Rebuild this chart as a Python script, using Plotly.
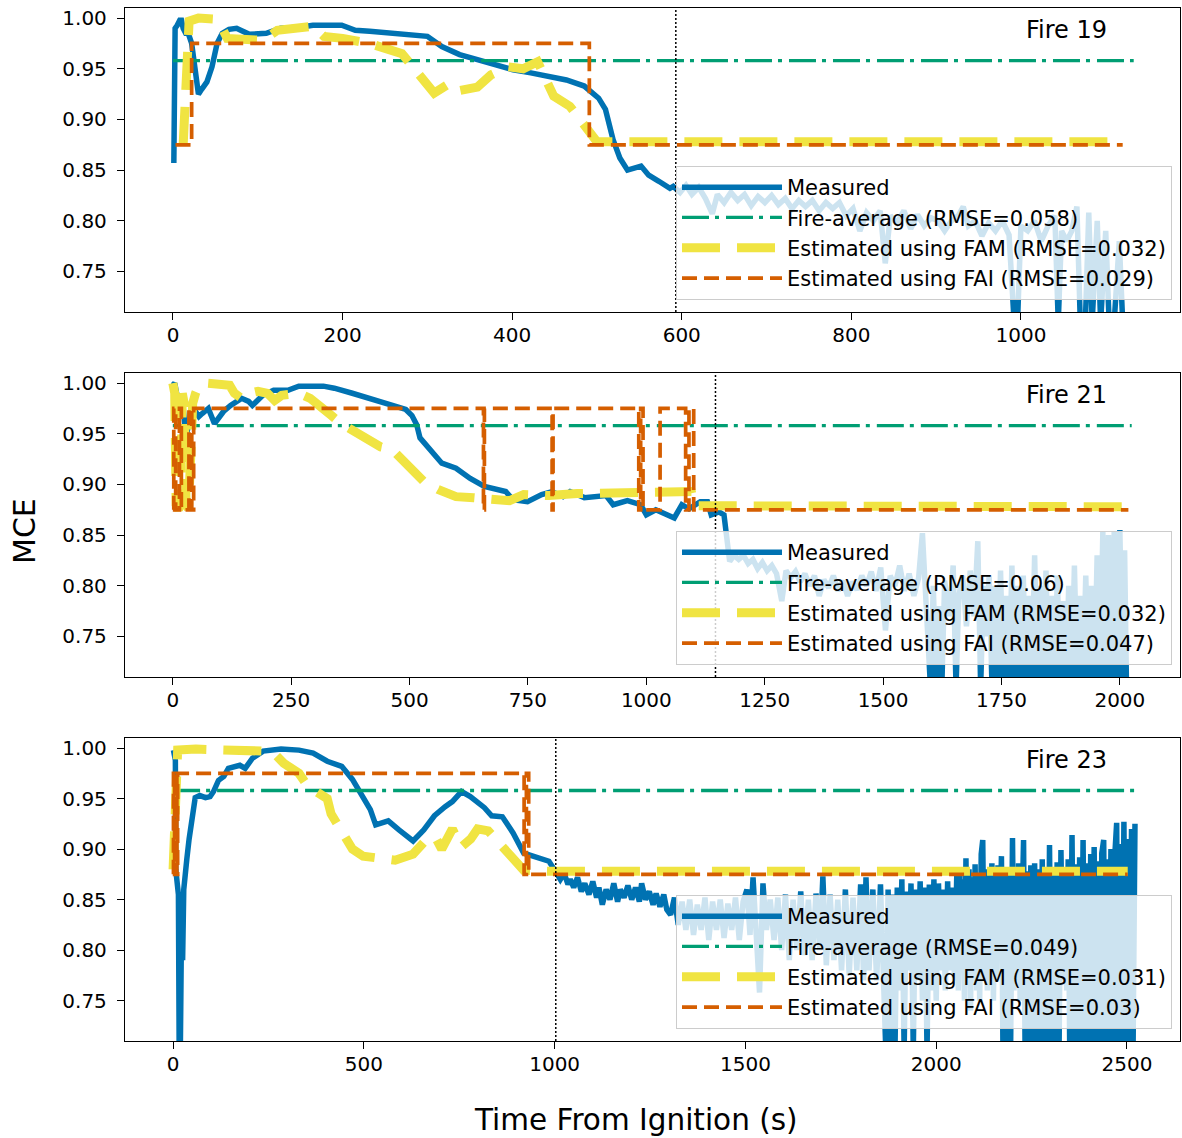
import plotly.graph_objects as go
from plotly.subplots import make_subplots

# ---------------- Fire 19 ----------------
f19_t = [1, 2.5, 5, 8, 10, 12, 15, 18, 22, 26, 30, 34, 40, 46, 52, 58, 66, 75, 90, 110, 127, 150, 165, 199,
         215, 232, 260, 290, 300, 317, 338, 359, 380, 401, 422, 443, 464, 485, 502, 510, 515, 519, 527, 536,
         552, 561, 573, 586,
         590, 598, 605, 612, 620, 628, 636, 642, 650, 658, 666, 674, 682, 690, 698, 706, 714, 722, 730, 738,
         746, 754, 762, 770, 778, 786, 794, 802, 810, 818, 826, 834, 840, 846, 854, 862, 870, 878, 886, 894,
         902, 910, 918, 926, 932, 938, 946, 954, 962, 970, 978, 986, 992, 996, 1000, 1008, 1016, 1024, 1032,
         1040, 1044, 1048, 1054, 1060, 1066, 1070, 1076, 1080, 1084, 1090, 1094, 1100, 1104, 1110, 1116,
         1120, 1126, 1131]
f19_mce = [0.857, 0.99, 0.993, 0.998, 0.998, 0.99, 0.985, 0.985, 0.975, 0.95, 0.925, 0.93, 0.937, 0.952,
           0.975, 0.985, 0.989, 0.99, 0.984, 0.985, 0.99, 0.991, 0.993, 0.993, 0.988, 0.987, 0.985, 0.984,
           0.982, 0.972, 0.964, 0.959, 0.954, 0.949, 0.946, 0.942, 0.939, 0.933, 0.921, 0.91, 0.895, 0.88,
           0.862, 0.85, 0.854, 0.845, 0.839, 0.832,
           0.834, 0.828, 0.835, 0.826, 0.833, 0.822, 0.807, 0.826, 0.818, 0.828, 0.82, 0.826, 0.815, 0.824,
           0.818, 0.825, 0.816, 0.822, 0.812, 0.82, 0.814, 0.82, 0.81, 0.818, 0.812, 0.818, 0.805, 0.812,
           0.79, 0.808, 0.8, 0.81, 0.758, 0.805, 0.798, 0.81, 0.792, 0.806, 0.795, 0.803, 0.8, 0.79, 0.8,
           0.805, 0.814, 0.795, 0.8, 0.785, 0.798, 0.79, 0.8, 0.786, 0.70, 0.70, 0.795, 0.79, 0.8, 0.78,
           0.795, 0.805, 0.70, 0.79, 0.78, 0.79, 0.814, 0.70, 0.70, 0.808, 0.70, 0.80, 0.70, 0.79, 0.70,
           0.70, 0.78, 0.70, 0.70, 0.70]
f19_fam_t = [12, 14, 16, 19, 30, 50, 58, 64, 106, 123, 165, 178, 200, 216, 232, 270, 283, 308, 325, 335,
             359, 375, 395, 413, 430, 449, 468, 494, 500, 1120]
f19_fam = [0.875, 0.93, 0.97, 0.997, 1.0, 0.999, 0.99, 0.98, 0.978, 0.988, 0.992, 0.982, 0.98, 0.978, 0.975,
           0.965, 0.952, 0.926, 0.935, 0.928, 0.932, 0.944, 0.952, 0.95, 0.957, 0.923, 0.913, 0.883, 0.878,
           0.878]
f19_fai_t = [3, 22, 22, 491, 491, 1120]
f19_fai = [0.875, 0.875, 0.975, 0.975, 0.875, 0.875]
f19_avg = 0.958
f19_end = 1133
f19_vline = 593

# ---------------- Fire 21 ----------------
f21_t = [0, 4, 8, 15, 22, 28, 34, 40, 48, 55, 62, 75, 88, 100, 107, 122, 145, 160, 168, 190, 213, 243, 266,
         318, 341, 379, 417, 454, 492, 505, 515, 522, 545, 568, 598, 628, 658, 681, 703, 718, 749, 779, 801,
         824, 839, 869, 915, 930, 951, 960, 988, 1000, 1020, 1059, 1075, 1090, 1114, 1129, 1137, 1153, 1164,
         1168,
         1176, 1185, 1195, 1205, 1215, 1225, 1235, 1245, 1255, 1265, 1275, 1286, 1295, 1305, 1315, 1325,
         1335, 1345, 1355, 1365, 1375, 1385, 1395, 1405, 1415, 1425, 1435, 1445, 1455, 1465, 1475, 1485,
         1495, 1505, 1515, 1525, 1535, 1545, 1555, 1565, 1575, 1583, 1590, 1600, 1606, 1612, 1618, 1624,
         1630, 1640, 1648, 1654, 1660, 1668, 1676, 1684, 1692, 1700, 1706, 1712, 1718, 1724, 1730, 1736,
         1742, 1748, 1754, 1760, 1766, 1772, 1778, 1784, 1790, 1796, 1802, 1808, 1814, 1820, 1826, 1832,
         1838, 1844, 1850, 1856, 1862, 1868, 1874, 1880, 1886, 1892, 1898, 1904, 1910, 1916, 1922, 1928,
         1934, 1940, 1946, 1952, 1958, 1964, 1970, 1976, 1982, 1988, 1994, 2000, 2006, 2010, 2014]
f21_mce = [0.998, 1.0, 0.99, 0.983, 0.975, 0.946, 0.965, 0.977, 0.972, 0.967, 0.97, 0.975, 0.96, 0.968,
           0.972, 0.978, 0.985, 0.982, 0.978, 0.988, 0.993, 0.993, 0.997, 0.997, 0.995, 0.99, 0.985, 0.98,
           0.974, 0.968, 0.959, 0.946, 0.933, 0.921, 0.916, 0.906, 0.898, 0.895, 0.893, 0.885, 0.883, 0.89,
           0.893, 0.888, 0.893, 0.887, 0.889, 0.88, 0.883, 0.884, 0.88, 0.87, 0.875, 0.867, 0.88, 0.876,
           0.883, 0.883, 0.87, 0.873, 0.87, 0.85,
           0.824, 0.83, 0.826, 0.83, 0.822, 0.826, 0.817, 0.823, 0.815, 0.82, 0.812, 0.785, 0.815, 0.808,
           0.814, 0.804, 0.812, 0.8, 0.81, 0.79, 0.806, 0.798, 0.81, 0.795, 0.805, 0.79, 0.804, 0.796, 0.81,
           0.8, 0.814, 0.795, 0.818, 0.756, 0.81, 0.8, 0.82, 0.795, 0.812, 0.79, 0.808, 0.852, 0.79, 0.70,
           0.80, 0.70, 0.78, 0.70, 0.805, 0.77, 0.82, 0.70, 0.79, 0.81, 0.76, 0.815, 0.77, 0.844, 0.70, 0.80,
           0.75, 0.81, 0.70, 0.80, 0.70, 0.815, 0.70, 0.79, 0.70, 0.82, 0.70, 0.80, 0.70, 0.81, 0.70, 0.79,
           0.70, 0.83, 0.70, 0.80, 0.70, 0.815, 0.70, 0.79, 0.70, 0.81, 0.70, 0.785, 0.70, 0.80, 0.70, 0.82,
           0.70, 0.79, 0.70, 0.81, 0.70, 0.80, 0.70, 0.83, 0.70, 0.853, 0.70, 0.85, 0.70, 0.853, 0.70, 0.855,
           0.70, 0.835, 0.70]
f21_fam_t = [0, 4, 7, 12, 16, 20, 24, 28, 33, 38, 42, 48, 55, 70, 100, 120, 130, 145, 160, 180, 200, 215,
             230, 250, 266, 290, 311, 335, 356, 386, 410, 439, 462, 490, 515, 530, 560, 598, 635, 670, 711,
             741, 794, 854, 922, 1020, 1095, 1102, 2014]
f21_fam = [1.0, 0.99, 0.88, 0.875, 0.88, 0.99, 0.98, 0.88, 0.876, 0.93, 0.98, 0.99, 0.998, 1.0, 1.0, 0.998,
           0.99, 0.985, 0.99, 0.992, 0.99, 0.983, 0.988, 0.99, 0.99, 0.985, 0.978, 0.968, 0.96, 0.952, 0.944,
           0.937, 0.935, 0.922, 0.91, 0.903, 0.895, 0.888, 0.887, 0.885, 0.884, 0.89, 0.889, 0.891, 0.892,
           0.893, 0.893, 0.879, 0.878]
f21_fai_t = [0, 2, 2, 6, 6, 14, 14, 18, 18, 34, 34, 40, 40, 44, 44, 656, 656, 658, 658, 801, 801, 803,
             803, 984, 984, 988, 988, 993, 993, 1029, 1029, 1083, 1083, 1090, 1090, 1100, 1100, 2018]
f21_fai = [0.875, 0.875, 0.975, 0.975, 0.875, 0.875, 0.975, 0.975, 0.875, 0.875, 0.975, 0.975, 0.875,
           0.875, 0.975, 0.975, 0.875, 0.875, 0.975, 0.975, 0.875, 0.875, 0.975, 0.975, 0.875, 0.875, 0.975,
           0.975, 0.875, 0.875, 0.975, 0.975, 0.875, 0.875, 0.975, 0.975, 0.875, 0.875]
f21_avg = 0.958
f21_end = 2025
f21_vline = 1146

# ---------------- Fire 23 ----------------
f23_t = [1, 4, 6, 7, 10, 12, 14, 16, 19, 22, 25, 28, 32, 36, 42, 49, 58, 70, 85, 97, 106, 119, 133, 145,
         161, 175, 189, 208, 236, 283, 330, 367, 404, 442, 470, 498, 517, 531, 564, 592, 629, 657, 685, 713,
         732, 756, 779, 816, 835, 863, 891, 919, 948, 985,
         1004, 1015, 1025, 1035, 1041, 1050, 1060, 1070, 1079, 1090, 1100, 1110, 1116, 1125, 1135, 1145,
         1155, 1165, 1172, 1182, 1192, 1202, 1212, 1222, 1228, 1238, 1248, 1258, 1266, 1276, 1286, 1294,
         1304, 1314, 1324, 1334, 1344, 1354, 1364, 1374, 1384, 1394, 1404, 1414, 1424, 1434, 1444, 1454,
         1464, 1474, 1484, 1494, 1504, 1512, 1520, 1528, 1537, 1546, 1555, 1565, 1575, 1585, 1595, 1605,
         1615, 1625, 1635, 1645, 1655, 1665, 1675, 1685, 1695, 1703, 1712, 1722, 1732, 1742, 1752, 1762,
         1772, 1782, 1792, 1802, 1810, 1816, 1824, 1834, 1844, 1854, 1862, 1868, 1874, 1880, 1886, 1892,
         1898, 1904, 1910, 1916, 1922, 1928, 1934, 1940, 1946, 1952, 1958, 1964, 1970, 1976, 1982, 1988,
         1994, 2000, 2006, 2012, 2018, 2024, 2030, 2036, 2042, 2048,
         2054, 2058, 2062, 2066, 2070, 2074, 2078, 2082, 2086, 2090, 2094, 2098, 2102, 2106, 2110, 2114,
         2118, 2122, 2126, 2130, 2134, 2138, 2142, 2146, 2150, 2154, 2158, 2162, 2166, 2171, 2175, 2180,
         2185, 2190, 2195, 2200, 2204, 2208, 2212, 2216, 2220, 2225, 2229, 2233, 2238, 2243, 2248, 2253,
         2258, 2263, 2268, 2273, 2278, 2283, 2288, 2293, 2297, 2302, 2307, 2312, 2317, 2322, 2327, 2332,
         2337, 2342, 2346, 2350, 2356, 2361, 2366, 2371, 2376, 2380, 2385, 2390, 2395, 2400, 2405, 2410,
         2414, 2419, 2424, 2429, 2434, 2439, 2443, 2448, 2453, 2458, 2463, 2468, 2473, 2477, 2482, 2487,
         2492, 2497, 2502, 2507, 2512, 2516, 2521]
f23_mce = [0.998, 0.992, 0.988, 0.88, 0.86, 0.87, 0.855, 0.70, 0.70, 0.82, 0.79, 0.86, 0.88, 0.89, 0.91,
           0.926, 0.951, 0.953, 0.951, 0.952, 0.957, 0.968, 0.972, 0.98, 0.982, 0.983, 0.98, 0.99, 0.997,
           0.999, 0.998, 0.995, 0.987, 0.982, 0.969, 0.952, 0.939, 0.924, 0.928, 0.919, 0.908, 0.919, 0.933,
           0.942, 0.947, 0.957, 0.952, 0.941, 0.933, 0.932, 0.916, 0.896, 0.893, 0.888,
           0.877, 0.87, 0.876, 0.865, 0.87, 0.862, 0.872, 0.858, 0.866, 0.855, 0.868, 0.852, 0.862, 0.845,
           0.86, 0.85, 0.866, 0.848, 0.86, 0.852, 0.864, 0.85, 0.862, 0.848, 0.866, 0.85, 0.858, 0.845,
           0.856, 0.843, 0.855, 0.84, 0.835, 0.852, 0.825, 0.848, 0.82, 0.85, 0.815, 0.845, 0.82, 0.852,
           0.81, 0.848, 0.82, 0.85, 0.812, 0.846, 0.82, 0.852, 0.81, 0.848, 0.86, 0.815, 0.872, 0.82, 0.758,
           0.866, 0.82, 0.85, 0.81, 0.852, 0.8, 0.855, 0.79, 0.85, 0.8, 0.858, 0.795, 0.85, 0.79, 0.856, 0.8,
           0.873, 0.785, 0.855, 0.79, 0.85, 0.78, 0.86, 0.775, 0.852, 0.78, 0.865, 0.77, 0.872, 0.78, 0.86,
           0.77, 0.865, 0.765, 0.70, 0.86, 0.70, 0.855, 0.70, 0.862, 0.76, 0.87, 0.70, 0.858, 0.78, 0.866,
           0.70, 0.86, 0.77, 0.868, 0.75, 0.862, 0.70, 0.865, 0.76, 0.87, 0.75, 0.866, 0.78, 0.86, 0.76,
           0.868, 0.78, 0.862, 0.77,
           0.875, 0.76, 0.88, 0.78, 0.87, 0.75, 0.891, 0.77, 0.88, 0.74, 0.872, 0.78, 0.885, 0.76, 0.876,
           0.75, 0.895, 0.909, 0.77, 0.88, 0.76, 0.874, 0.78, 0.886, 0.75, 0.878, 0.77, 0.884, 0.79, 0.893,
           0.70, 0.88, 0.70, 0.876, 0.70, 0.911, 0.76, 0.88, 0.77, 0.886, 0.75, 0.88, 0.909, 0.70, 0.878,
           0.70, 0.884, 0.70, 0.886, 0.70, 0.88, 0.70, 0.89, 0.70, 0.882, 0.70, 0.904, 0.70, 0.88, 0.70,
           0.887, 0.70, 0.899, 0.77, 0.882, 0.76, 0.89, 0.70, 0.914, 0.70, 0.885, 0.70, 0.892, 0.70, 0.909,
           0.70, 0.886, 0.70, 0.895, 0.70, 0.902, 0.70, 0.888, 0.70, 0.896, 0.909, 0.70, 0.89, 0.70, 0.9,
           0.70, 0.893, 0.926, 0.70, 0.905, 0.70, 0.927, 0.70, 0.91, 0.70, 0.92, 0.70, 0.925]
f23_fam_t = [0, 3, 6, 9, 12, 60, 120, 160, 217, 240, 264, 290, 330, 348, 375, 404, 414, 440, 470, 498, 540,
             582, 629, 650, 670, 690, 704, 732, 755, 780, 798, 826, 850, 875, 901, 919, 994, 2502]
f23_fam = [0.88, 0.92, 0.95, 0.99, 0.998, 0.999, 0.998, 0.999, 0.998, 0.997, 0.995, 0.985, 0.975, 0.965,
           0.957, 0.95, 0.935, 0.92, 0.9, 0.893, 0.89, 0.889, 0.895, 0.905, 0.912, 0.91, 0.9, 0.92, 0.902,
           0.91, 0.92, 0.918, 0.908, 0.895, 0.885, 0.879, 0.878, 0.878]
f23_fai_t = [0, 1, 1, 4, 4, 7, 7, 10, 10, 12, 12, 920, 920, 926, 926, 932, 932, 2502]
f23_fai = [0.875, 0.875, 0.975, 0.975, 0.875, 0.875, 0.975, 0.975, 0.875, 0.875, 0.975, 0.975, 0.875,
           0.875, 0.975, 0.975, 0.875, 0.875]
f23_avg = 0.958
f23_end = 2521
f23_vline = 1003

fire_names = ["Fire 19", "Fire 21", "Fire 23"]
rmse_avg = ["0.058", "0.06", "0.049"]
rmse_fam = ["0.032", "0.032", "0.031"]
rmse_fai = ["0.029", "0.047", "0.03"]
x_ranges = [[-56.6, 1187.6], [-101, 2127], [-126, 2639]]
x_dticks = [200, 250, 500]

# ---------------- layout geometry ----------------
W, H = 1182, 1138
ML, MR, MT, MB = 125, 2, 8, 97
PH = H - MT - MB
PW = W - ML - MR
panel_px = [(8, 312), (373, 677), (738, 1041)]


def py(v):
    return 1 - (v - MT) / PH


def pxx(v):
    return (v - ML) / PW


BLUE = "#0072B2"
GREEN = "#009E73"
YELLOW = "#F0E442"
ORANGE = "#D55E00"

fig = make_subplots(rows=3, cols=1)

panels = [
    (f19_t, f19_mce, f19_fam_t, f19_fam, f19_fai_t, f19_fai, f19_avg, f19_end, f19_vline),
    (f21_t, f21_mce, f21_fam_t, f21_fam, f21_fai_t, f21_fai, f21_avg, f21_end, f21_vline),
    (f23_t, f23_mce, f23_fam_t, f23_fam, f23_fai_t, f23_fai, f23_avg, f23_end, f23_vline),
]

for i, (mt, mv, ft, fv, at, av, avg, tend, vl) in enumerate(panels):
    row = i + 1
    sfx = "" if i == 0 else str(i + 1)
    lg = "legend" + sfx
    fig.add_trace(go.Scatter(x=mt, y=mv, mode="lines", name="Measured",
                             line=dict(color=BLUE, width=5.5), legend=lg), row=row, col=1)
    fig.add_trace(go.Scatter(x=[0, tend], y=[avg, avg], mode="lines",
                             name=f"Fire-average (RMSE={rmse_avg[i]})",
                             line=dict(color=GREEN, width=3.3, dash="27px,6px,4px,7px"), legend=lg),
                  row=row, col=1)
    fig.add_trace(go.Scatter(x=ft, y=fv, mode="lines",
                             name=f"Estimated using FAM (RMSE={rmse_fam[i]})",
                             line=dict(color=YELLOW, width=9, dash="38px,17px"), legend=lg),
                  row=row, col=1)
    fig.add_trace(go.Scatter(x=at, y=av, mode="lines",
                             name=f"Estimated using FAI (RMSE={rmse_fai[i]})",
                             line=dict(color=ORANGE, width=3.7, dash="15px,7px"), legend=lg),
                  row=row, col=1)
    fig.add_shape(type="line", x0=vl, x1=vl, y0=0, y1=1, xref="x" + sfx,
                  yref="y" + sfx + " domain",
                  line=dict(color="black", width=1.5, dash="2px,2px"))

    top, bot = panel_px[i]
    fig.layout["yaxis" + sfx].update(
        domain=[py(bot), py(top)], range=[0.71, 1.01],
        tickvals=[0.75, 0.80, 0.85, 0.90, 0.95, 1.00], tickformat=".2f",
        showline=True, linecolor="black", linewidth=1.3, mirror=True,
        ticks="outside", ticklen=7, tickwidth=1.3, tickcolor="black",
        showgrid=False, zeroline=False, ticklabelstandoff=6,
        tickfont=dict(size=20, color="black", family="DejaVu Sans"))
    fig.layout["xaxis" + sfx].update(
        domain=[0, 1], range=x_ranges[i], dtick=x_dticks[i], tick0=0,
        showline=True, linecolor="black", linewidth=1.3, mirror=True,
        ticks="outside", ticklen=7, tickwidth=1.3, tickcolor="black",
        showgrid=False, zeroline=False, ticklabelstandoff=-2,
        tickfont=dict(size=20, color="black", family="DejaVu Sans"))

    fig.add_annotation(text=fire_names[i], x=pxx(1109), y=py(top + 22), xref="paper", yref="paper",
                       xanchor="right", yanchor="middle", showarrow=False,
                       font=dict(size=24, color="black", family="DejaVu Sans"))

    leg = dict(x=pxx(1172), y=py(bot - 12), xanchor="right", yanchor="bottom",
               bgcolor="rgba(255,255,255,0.8)", bordercolor="#cccccc", borderwidth=1,
               font=dict(size=21, color="black", family="DejaVu Sans"), itemwidth=100,
               tracegroupgap=0)
    fig.layout[lg] = leg

fig.add_annotation(text="MCE", x=pxx(24), y=py(531), xref="paper", yref="paper", textangle=-90,
                   xanchor="center", yanchor="middle",
                   showarrow=False, font=dict(size=30, color="black", family="DejaVu Sans"))
fig.add_annotation(text="Time From Ignition (s)", x=pxx(636), y=py(1120), xref="paper", yref="paper",
                   xanchor="center", yanchor="middle",
                   showarrow=False, font=dict(size=29.5, color="black", family="DejaVu Sans"))

fig.update_layout(width=W, height=H, margin=dict(l=ML, r=MR, t=MT, b=MB),
                  plot_bgcolor="white", paper_bgcolor="white", showlegend=True)

fig.write_html("out.html")
